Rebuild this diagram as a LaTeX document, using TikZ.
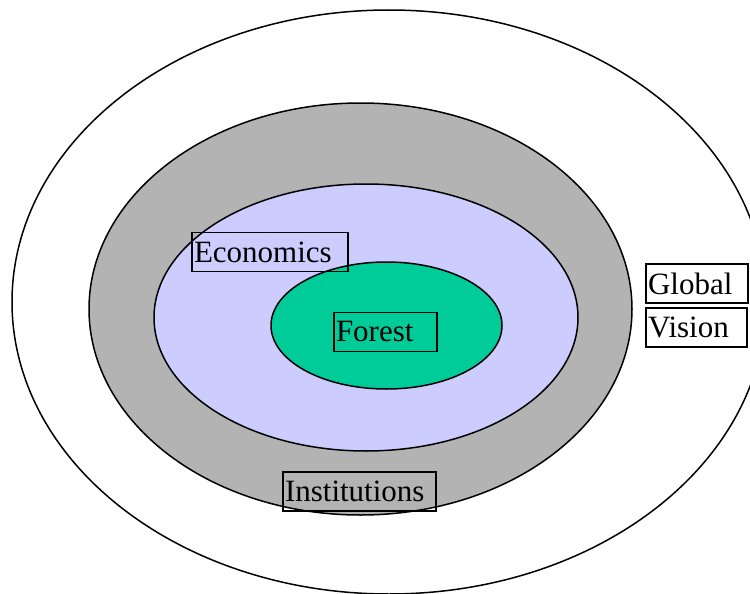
\documentclass[tikz,border=0pt]{standalone}
\usepackage{fontspec}
\setmainfont{Liberation Serif}
\definecolor{ringgray}{RGB}{179,179,179}
\definecolor{econblue}{RGB}{204,204,255}
\definecolor{forestgreen}{RGB}{0,204,153}

\begin{document}
\begin{tikzpicture}[x=1pt,y=-1pt,
    ring/.style={draw,line width=1.5pt},
    lbl/.style={draw,line width=1.3pt,inner xsep=2pt,inner ysep=0pt,minimum height=39,align=left,font=\fontsize{31}{34}\selectfont}]
            \useasboundingbox (0,0) rectangle (750,594);
            \draw[ring,fill=white] (389,302) ellipse (377 and 292);
            \draw[ring,fill=ringgray] (360.5,309) ellipse (271.5 and 206);
            \draw[ring,fill=econblue] (366,317.5) ellipse (212 and 133.5);
            \draw[ring,fill=forestgreen] (386.5,325.5) ellipse (115.5 and 63.5);
            \node[lbl,text width=152] (Econ) at (270,252) {Economics};
            \node[lbl,text width=99] (Fore) at (385.5,332) {Forest};
            \node[lbl,text width=149] (Inst) at (359.5,491.5) {Institutions};
            \node[lbl,text width=98] (Glob) at (697,283.5) {Global};
            \node[lbl,text width=97] (Visi) at (696.5,327.5) {Vision};
        \end{tikzpicture}
\end{document}
